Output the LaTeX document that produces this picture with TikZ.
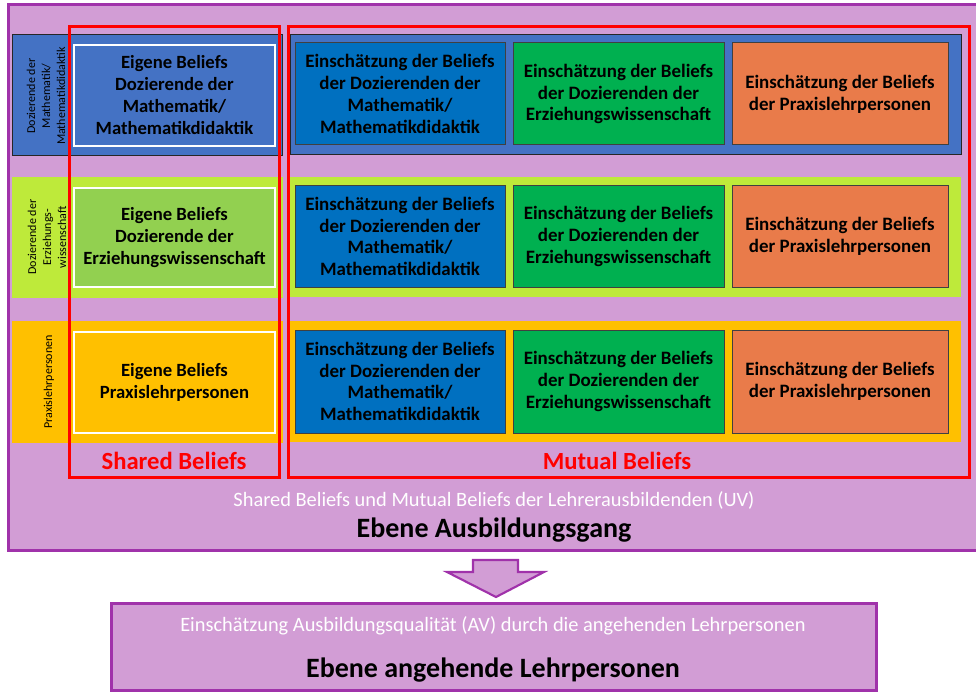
\documentclass[tikz,border=0pt]{standalone}
\usepackage{fontspec}
\setmainfont{Carlito}
\definecolor{lpurple}{RGB}{210,157,213}
\definecolor{dpurple}{RGB}{160,50,170}
\definecolor{bandblue}{RGB}{68,114,196}
\definecolor{cellblue}{RGB}{0,112,192}
\definecolor{cellgreen}{RGB}{0,176,80}
\definecolor{cellorange}{RGB}{233,123,74}
\definecolor{lime}{RGB}{190,234,58}
\definecolor{lgreen}{RGB}{146,208,80}
\definecolor{gold}{RGB}{255,192,0}
\definecolor{bred}{RGB}{255,0,0}
\newcommand\rbox[7]{\node[anchor=north west, inner sep=0pt, outer sep=0pt,
  minimum width={(#4-#2)*0.75pt}, minimum height={(#5-#3)*0.75pt}, align=center, #6] (#1) at (#2,#3) {#7};}
\begin{document}
\begin{tikzpicture}[x=0.75pt,y=-0.75pt,
  outerbox/.style={fill=lpurple, draw=dpurple, line width=2.25pt},
  band/.style={fill=#1},
  ownbox/.style={fill=#1, draw=white, line width=0.9pt, font=\fontsize{14}{16.5}\selectfont\bfseries},
  cellbox/.style={fill=#1, draw=black!75, line width=0.75pt, font=\fontsize{14.2}{16.3}\selectfont\bfseries},
  redbox/.style={draw=bred, line width=2.25pt},
  sidelabel/.style={rotate=90, align=center, font=\fontsize{9}{11.3}\selectfont},
  redlabel/.style={text=bred, font=\fontsize{18.5}{20}\selectfont\bfseries},
  whitelabel/.style={text=white, font=\fontsize{15.3}{17}\selectfont},
  levellabel/.style={font=\fontsize{21}{24}\selectfont\bfseries}]
\useasboundingbox (0,0) rectangle (976,692);
% outer level box
\rbox{outer}{8}{5}{990}{550}{outerbox}{}
% row bands
\rbox{b1l}{12}{35}{282}{156}{band=bandblue, draw=black!85, line width=0.75pt}{}
\rbox{b1r}{290}{35}{961}{155}{band=bandblue, draw=black!85, line width=0.75pt}{}
\rbox{b2l}{12}{177}{283}{298}{band=lime}{}
\rbox{b2r}{290}{177}{961}{297}{band=lime}{}
\rbox{b3l}{12}{321}{283}{443}{band=gold}{}
\rbox{b3r}{290}{321}{961}{442}{band=gold}{}
% side labels
\node[sidelabel] (s1) at (46,96) {Dozierende der\\Mathematik/\\Mathematikdidaktik};
\node[sidelabel] (s2) at (47,237) {Dozierende der\\Erziehungs-\\wissenschaft};
\node[sidelabel] (s3) at (49,382) {Praxislehrpersonen};
% own beliefs
\rbox{e1}{74}{45}{275}{146}{ownbox=bandblue}{Eigene Beliefs\\Dozierende der\\Mathematik/\\Mathematikdidaktik}
\rbox{e2}{74}{188}{275}{287}{ownbox=lgreen}{Eigene Beliefs\\Dozierende der\\Erziehungswissenschaft}
\rbox{e3}{74}{332}{275}{433}{ownbox=gold}{Eigene Beliefs\\Praxislehrpersonen}
% mutual cells
\rbox{m11}{295}{43}{505}{145}{cellbox=cellblue}{Einschätzung der Beliefs\\der Dozierenden der\\Mathematik/\\Mathematikdidaktik}
\rbox{m12}{513}{43}{724}{145}{cellbox=cellgreen}{Einschätzung der Beliefs\\der Dozierenden der\\Erziehungswissenschaft}
\rbox{m13}{732}{43}{948}{145}{cellbox=cellorange}{Einschätzung der Beliefs\\der Praxislehrpersonen}
\rbox{m21}{295}{186}{505}{287}{cellbox=cellblue}{Einschätzung der Beliefs\\der Dozierenden der\\Mathematik/\\Mathematikdidaktik}
\rbox{m22}{513}{186}{724}{287}{cellbox=cellgreen}{Einschätzung der Beliefs\\der Dozierenden der\\Erziehungswissenschaft}
\rbox{m23}{732}{186}{948}{287}{cellbox=cellorange}{Einschätzung der Beliefs\\der Praxislehrpersonen}
\rbox{m31}{295}{330}{505}{433}{cellbox=cellblue}{Einschätzung der Beliefs\\der Dozierenden der\\Mathematik/\\Mathematikdidaktik}
\rbox{m32}{513}{330}{724}{433}{cellbox=cellgreen}{Einschätzung der Beliefs\\der Dozierenden der\\Erziehungswissenschaft}
\rbox{m33}{732}{330}{948}{433}{cellbox=cellorange}{Einschätzung der Beliefs\\der Praxislehrpersonen}
% red frames
\rbox{shared}{69}{27}{279}{477}{redbox}{}
\rbox{mutual}{288}{27}{969}{477}{redbox}{}
\node[redlabel] (sl) at (174,461) {Shared Beliefs};
\node[redlabel] (ml) at (617,461) {Mutual Beliefs};
% level texts
\node[whitelabel] (uv) at (494,500) {Shared Beliefs und Mutual Beliefs der Lehrerausbildenden (UV)};
\node[levellabel] (lv1) at (494,530) {Ebene Ausbildungsgang};
% arrow
\draw[fill=lpurple, draw=dpurple, line width=1.6pt, line join=miter]
  (473,560) -- (518,560) -- (518,572) -- (544,572) -- (496,597) -- (447,572) -- (473,572) -- cycle;
% bottom box
\rbox{lower}{111}{603}{876}{690}{outerbox}{}
\node[whitelabel] (av) at (493,626) {Einschätzung Ausbildungsqualität (AV) durch die angehenden Lehrpersonen};
\node[levellabel] (lv2) at (493,670) {Ebene angehende Lehrpersonen};
\end{tikzpicture}
\end{document}
